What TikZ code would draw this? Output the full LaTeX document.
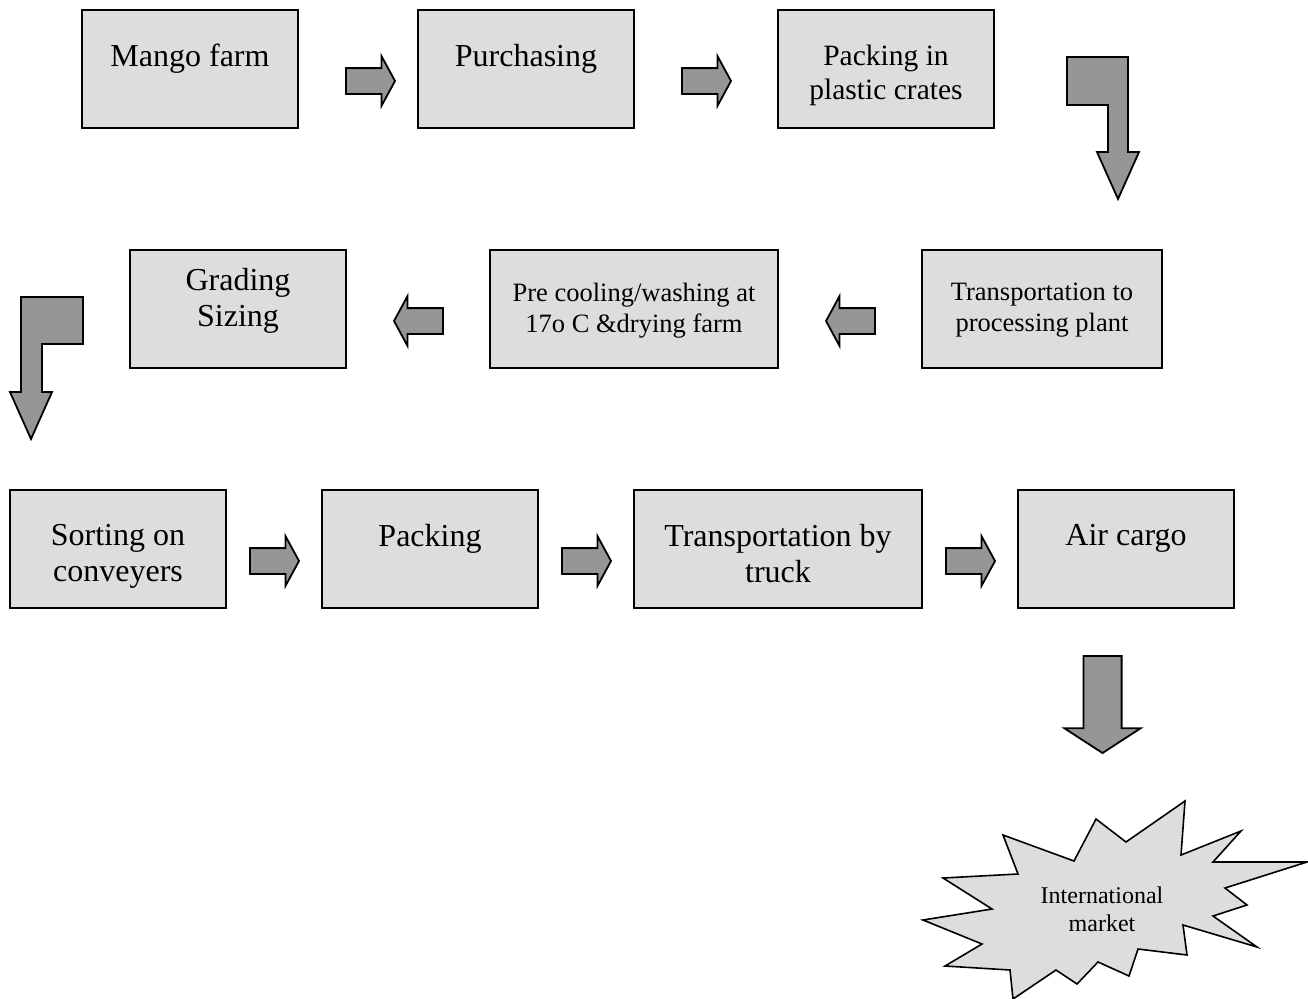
\documentclass[tikz,border=0pt]{standalone}
\usepackage{fontspec}
\setmainfont{Liberation Serif}
\usetikzlibrary{shapes.arrows, positioning}

\definecolor{boxgray}{HTML}{DDDDDD}
\definecolor{arrowgray}{HTML}{969696}

\tikzset{
    stepbox/.style={draw=black, line width=1.4pt, fill=boxgray, minimum height=118pt,
        inner sep=0pt, outer sep=0pt, anchor=north west},
    bigtext/.style={anchor=north, align=center, inner sep=0pt, font=\fontsize{32}{36}\selectfont},
    midtext/.style={anchor=north, align=center, inner sep=0pt, font=\fontsize{29.5}{34}\selectfont},
    smalltext/.style={anchor=north, align=center, inner sep=0pt, font=\fontsize{26.5}{31}\selectfont},
    blockR/.style={single arrow, draw=black, line width=1.8pt, fill=arrowgray, anchor=tail,
        minimum height=49pt, minimum width=48pt, inner sep=12pt, outer sep=0pt,
        single arrow head extend=12pt, single arrow tip angle=123},
    blockL/.style={blockR, shape border rotate=180},
    blockD/.style={blockR, shape border rotate=270, minimum height=97pt, minimum width=74pt,
        inner sep=18.2pt, single arrow head extend=18.9pt, single arrow tip angle=114},
    bentarrow/.style={draw=black, line width=1.8pt, fill=arrowgray, line join=miter},
    burst/.style={draw=black, line width=1.6pt, fill=boxgray, line join=miter}
}

\begin{document}
\begin{tikzpicture}[x=1pt, y=-1pt]
    \useasboundingbox (0,0) rectangle (1308,998);
    % first row
    \node[stepbox, minimum width=216pt] (farm) at (82,10) {};
    \node[stepbox, minimum width=216pt] (buy) at (418,10) {};
    \node[stepbox, minimum width=216pt] (crates) at (778,10) {};
    \node[bigtext] (farm-t) at ([yshift=-34pt]farm.north) {Mango farm};
    \node[bigtext] (buy-t) at ([yshift=-34pt]buy.north) {Purchasing};
    \node[midtext] (crates-t) at ([yshift=-35pt]crates.north) {Packing in\\plastic crates};
    \node[blockR] (a1) at (346,81) {};
    \node[blockR] (a2) at (682,81) {};
    \draw[bentarrow] (1067,57) -- (1128,57) -- (1128,152) -- (1139,152) -- (1118,199)
        -- (1097,152) -- (1108,152) -- (1108,105) -- (1067,105) -- cycle;
    % second row
    \node[stepbox, minimum width=240pt] (haul) at (922,250) {};
    \node[stepbox, minimum width=288pt] (cool) at (490,250) {};
    \node[stepbox, minimum width=216pt] (grade) at (130,250) {};
    \node[smalltext] (haul-t) at ([yshift=-33pt]haul.north) {Transportation to\\processing plant};
    \node[smalltext] (cool-t) at ([yshift=-33pt]cool.north) {Pre cooling/washing at\\17o C \&drying farm};
    \node[bigtext] (grade-t) at ([yshift=-18pt]grade.north) {Grading\\Sizing};
    \node[blockL] (a3) at (875,321) {};
    \node[blockL] (a4) at (443,321) {};
    \draw[bentarrow] (21,297) -- (83,297) -- (83,344) -- (42,344) -- (42,392) -- (52,392)
        -- (31,439) -- (10,392) -- (21,392) -- cycle;
    % third row
    \node[stepbox, minimum width=216pt] (sort) at (10,490) {};
    \node[stepbox, minimum width=216pt] (pack) at (322,490) {};
    \node[stepbox, minimum width=288pt] (truck) at (634,490) {};
    \node[stepbox, minimum width=216pt] (air) at (1018,490) {};
    \node[bigtext] (sort-t) at ([yshift=-34pt]sort.north) {Sorting on\\conveyers};
    \node[bigtext] (pack-t) at ([yshift=-34pt]pack.north) {Packing};
    \node[bigtext] (truck-t) at ([yshift=-34pt]truck.north) {Transportation by\\truck};
    \node[bigtext] (air-t) at ([yshift=-34pt]air.north) {Air cargo};
    \node[blockR] (a5) at (250,561) {};
    \node[blockR] (a6) at (562,561) {};
    \node[blockR] (a7) at (946,561) {};
    \node[blockD] (a8) at (1102.5,656) {};
    % market
    \draw[burst] (1003,835) -- (1074,861) -- (1096,819) -- (1126,842) -- (1185,801)
        -- (1181,855) -- (1241,831) -- (1213,862) -- (1307,862) -- (1225,888)
        -- (1247,905) -- (1213,916) -- (1257,947) -- (1183,925) -- (1187,955)
        -- (1138,949) -- (1129,976) -- (1098,962) -- (1077,984) -- (1056,970)
        -- (1013,999) -- (1010,970) -- (945,966) -- (982,944) -- (923,920)
        -- (992,909) -- (943,878) -- (1018,874) -- cycle;
    \node[anchor=north, align=center, inner sep=0pt, font=\fontsize{24}{28}\selectfont]
        (market) at (1102,887) {International\\market};
\end{tikzpicture}
\end{document}
